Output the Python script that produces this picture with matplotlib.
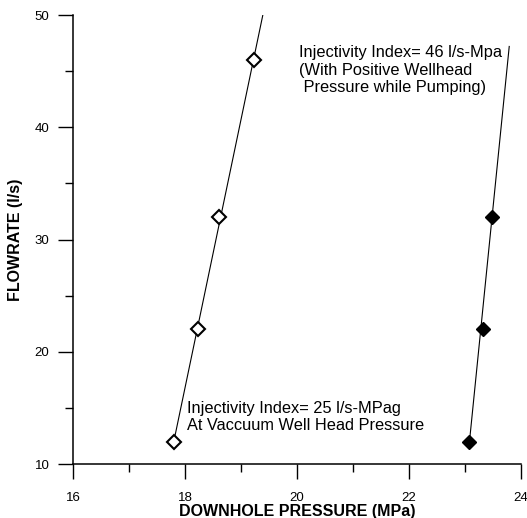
import numpy as np
import matplotlib
matplotlib.use('Agg')
import matplotlib.pyplot as plt
from matplotlib.ticker import MultipleLocator

plt.rcParams['font.family'] = ['Liberation Sans', 'DejaVu Sans']

# Vacuum wellhead pressure test (open diamonds)
vac_pressure = [17.80, 18.23, 18.61, 19.23]
vac_flow = [12, 22, 32, 46]
vac_fit_x = [17.80, 19.39]
vac_fit_y = [12, 50]

# Positive wellhead pressure test (filled diamonds)
pos_pressure = [23.08, 23.33, 23.49]
pos_flow = [12, 22, 32]
pos_fit_x = [23.08, 23.79]
pos_fit_y = [12, 47.2]

fig = plt.figure(figsize=(5.27, 5.18), dpi=100)
ax = fig.add_axes([0.1385, 0.1042, 0.8501, 0.8668])

ax.plot(vac_fit_x, vac_fit_y, color='black', lw=0.8)
ax.plot(pos_fit_x, pos_fit_y, color='black', lw=0.8)
ax.plot(vac_pressure, vac_flow, 'D', ms=7, mfc='white', mec='black', mew=1.5, ls='none')
ax.plot(pos_pressure, pos_flow, 'D', ms=7.5, mfc='black', mec='black', ls='none')

ax.text(20.04, 47.3, 'Injectivity Index= 46 l/s-Mpa\n(With Positive Wellhead\n Pressure while Pumping)',
        fontsize=11.8, va='top', ha='left', linespacing=1.2)
ax.text(18.03, 14.2, 'Injectivity Index= 25 l/s-MPag\nAt Vaccuum Well Head Pressure',
        fontsize=11.8, va='center', ha='left', linespacing=1.2)

ax.set_xlim(16, 24)
ax.set_ylim(10, 50)
ax.xaxis.set_major_locator(MultipleLocator(2))
ax.xaxis.set_minor_locator(MultipleLocator(1))
ax.yaxis.set_major_locator(MultipleLocator(10))
ax.yaxis.set_minor_locator(MultipleLocator(5))
ax.tick_params(which='major', length=11, width=1, labelsize=9.5, direction='out')
ax.tick_params(which='minor', length=5.5, width=1, direction='out')
ax.tick_params(axis='x', pad=9)
ax.tick_params(axis='y', pad=6)

ax.spines['top'].set_visible(False)
ax.spines['right'].set_visible(False)
ax.spines['left'].set_linewidth(1.1)
ax.spines['bottom'].set_linewidth(1.1)

ax.set_xlabel('DOWNHOLE PRESSURE (MPa)', fontsize=11.5, fontweight='bold', labelpad=0)
ax.set_ylabel('FLOWRATE (l/s)', fontsize=11.5, fontweight='bold', labelpad=8)

fig.savefig('out.png', dpi=100)
